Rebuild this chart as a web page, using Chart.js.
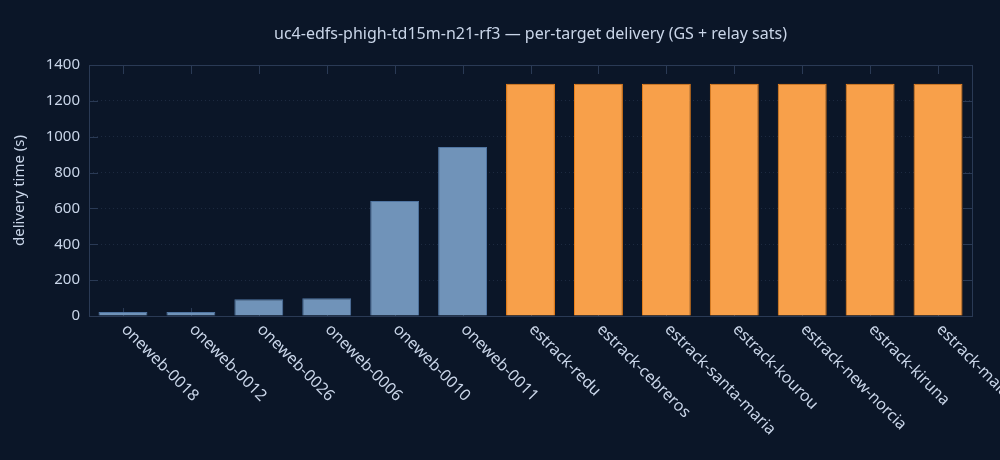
<!DOCTYPE html>
<html>
<head>
<meta charset="utf-8">
<script src="https://cdn.jsdelivr.net/npm/chart.js@4"></script>
<style>
  html, body { margin: 0; padding: 0; background: #0b1628; }
  #wrap { width: 1000px; height: 460px; }
</style>
</head>
<body>
<div id="wrap"><canvas id="deliveryChart"></canvas></div>
<script>
const targets = [
    'oneweb-0018', 'oneweb-0012', 'oneweb-0026', 'oneweb-0006', 'oneweb-0010', 'oneweb-0011',
    'estrack-redu', 'estrack-cebreros', 'estrack-santa-maria', 'estrack-kourou',
    'estrack-new-norcia', 'estrack-kiruna', 'estrack-malargue'
];
const deliverySeconds = [22, 22, 93, 99, 642, 942, 1295, 1295, 1295, 1295, 1295, 1295, 1295];
const relayKind = ['sat', 'sat', 'sat', 'sat', 'sat', 'sat', 'gs', 'gs', 'gs', 'gs', 'gs', 'gs', 'gs'];
const yTicks = [0, 200, 400, 600, 800, 1000, 1200, 1400];

const chartTitle = 'uc4-edfs-phigh-td15m-n21-rf3 \u2014 per-target delivery (GS + relay sats)';
const textColor = '#c9d5e8';
const frameColor = '#2a3a55';
const fontFamily = '"Noto Sans", "Open Sans", sans-serif';

const fills = { sat: 'rgba(112, 147, 185, 1)', gs: 'rgba(248, 160, 74, 1)' };
const borders = { sat: 'rgba(80, 117, 162, 1)', gs: 'rgba(245, 133, 24, 1)' };

// frame and inside ticks, under the bars
const framePlugin = {
    id: 'frame',
    beforeDatasetsDraw(chart) {
        const { ctx, chartArea } = chart;
        const xs = chart.scales.x;
        const ys = chart.scales.y;
        ctx.save();
        ctx.strokeStyle = frameColor;
        ctx.lineWidth = 1;
        ctx.strokeRect(chartArea.left + 0.5, chartArea.top + 0.5,
            chartArea.right - chartArea.left, chartArea.bottom - chartArea.top);

        ctx.beginPath();
        targets.forEach((t, i) => {
            const x = Math.round(xs.getPixelForValue(i)) + 0.5;
            ctx.moveTo(x, chartArea.bottom); ctx.lineTo(x, chartArea.bottom - 8);
            ctx.moveTo(x, chartArea.top); ctx.lineTo(x, chartArea.top + 9);
        });
        yTicks.forEach(v => {
            const y = Math.round(ys.getPixelForValue(v)) + 0.5;
            ctx.moveTo(chartArea.left, y); ctx.lineTo(chartArea.left + 9, y);
            ctx.moveTo(chartArea.right, y); ctx.lineTo(chartArea.right - 9, y);
        });
        ctx.stroke();
        ctx.restore();
    },
    // title and slanted x labels
    afterDraw(chart) {
        const { ctx, chartArea } = chart;
        const xs = chart.scales.x;
        ctx.save();
        ctx.fillStyle = textColor;
        ctx.font = '16px ' + fontFamily;
        ctx.textAlign = 'center';
        ctx.textBaseline = 'middle';
        ctx.fillText(chartTitle, (chartArea.left + chartArea.right) / 2, 34);

        ctx.font = '16px ' + fontFamily;
        ctx.textAlign = 'left';
        targets.forEach((t, i) => {
            const x = xs.getPixelForValue(i);
            ctx.save();
            ctx.translate(x + 1, chartArea.bottom + 11);
            ctx.rotate(Math.PI / 4);
            ctx.fillText(t, 0, 0);
            ctx.restore();
        });
        ctx.restore();
    }
};

new Chart(document.getElementById('deliveryChart').getContext('2d'), {
    type: 'bar',
    data: {
        labels: targets,
        datasets: [{
            label: 'delivery time (s)',
            data: deliverySeconds,
            backgroundColor: relayKind.map(k => fills[k]),
            borderColor: relayKind.map(k => borders[k]),
            borderWidth: 1,
            barPercentage: 0.72,
            categoryPercentage: 1
        }]
    },
    options: {
        responsive: true,
        maintainAspectRatio: false,
        animation: false,
        layout: { padding: { top: 65, right: 28, bottom: 0, left: 11 } },
        plugins: {
            legend: { display: false },
            tooltip: { enabled: false }
        },
        scales: {
            x: {
                grid: { display: false },
                border: { display: false },
                ticks: { display: false },
                afterFit: function(scale) { scale.height = 144; }
            },
            y: {
                min: 0,
                max: 1400,
                afterBuildTicks: function(scale) {
                    scale.ticks = yTicks.map(v => ({ value: v }));
                },
                afterFit: function(scale) { scale.width = 78; },
                grid: { color: '#1d2a40', drawTicks: false, lineWidth: 1 },
                border: { display: false, dash: [1, 3] },
                ticks: {
                    color: textColor,
                    padding: 9,
                    font: { family: fontFamily, size: 15 },
                    callback: function(value) { return String(value); }
                },
                title: {
                    display: true,
                    text: 'delivery time (s)',
                    color: textColor,
                    padding: { top: 0, bottom: 0 },
                    font: { family: fontFamily, size: 15 }
                }
            }
        }
    },
    plugins: [framePlugin]
});
</script>
</body>
</html>
